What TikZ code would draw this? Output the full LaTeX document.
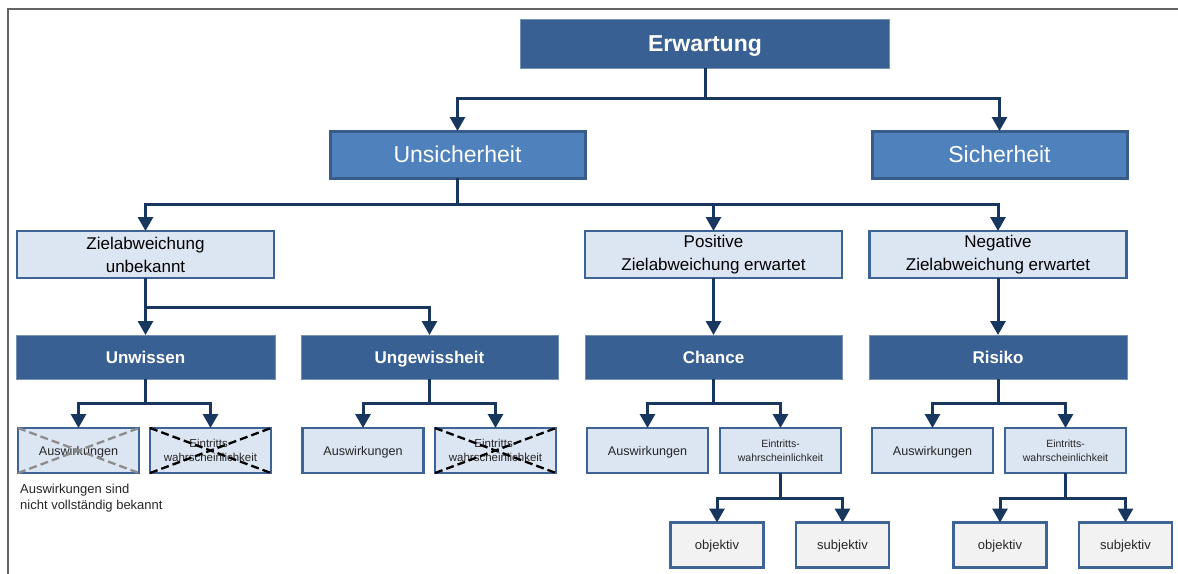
\documentclass[tikz,border=0pt]{standalone}
\usepackage{fontspec}
\setmainfont{Liberation Sans}
\usetikzlibrary{arrows.meta}
\definecolor{darkfill}{RGB}{56,96,146}
\definecolor{darkedge}{RGB}{120,145,178}
\definecolor{midfill}{RGB}{79,129,189}
\definecolor{midedge}{RGB}{56,93,138}
\definecolor{lightfill}{RGB}{220,230,242}
\definecolor{lightedge}{RGB}{62,100,150}
\definecolor{grayfill}{RGB}{242,242,242}
\definecolor{connc}{RGB}{23,55,94}
\definecolor{framec}{RGB}{100,100,100}
\definecolor{crossgray}{RGB}{140,140,140}
\tikzset{
  boxbase/.style={rectangle, inner sep=0pt, outer sep=0pt, align=center},
  darkbox/.style={boxbase, text height=12.2pt, text depth=0pt, fill=darkfill, draw=darkedge, line width=1pt, text=white,
    font=\bfseries\fontsize{17}{20}\selectfont, minimum height=44pt},
  topbox/.style={darkbox, text height=16.5pt, font=\bfseries\fontsize{23}{27}\selectfont, minimum height=49pt},
  midbox/.style={boxbase, text height=16.5pt, text depth=0pt, fill=midfill, draw=midedge, line width=3pt, text=white,
    font=\fontsize{23}{26}\selectfont, minimum height=47pt, minimum width=255pt},
  lightbox/.style={boxbase, fill=lightfill, draw=lightedge, line width=2.5pt, text=black,
    font=\fontsize{17}{23}\selectfont, minimum height=47pt, minimum width=257pt},
  smallbox/.style={boxbase, text height=9pt, text depth=0pt, fill=lightfill, draw=lightedge, line width=2.5pt, text=black!85,
    font=\fontsize{12.6}{16}\selectfont, minimum height=45pt, minimum width=121pt},
  probbox/.style={boxbase, fill=lightfill, draw=lightedge, line width=2.5pt, text=black!85,
    font=\fontsize{10.5}{14}\selectfont, minimum height=45pt, minimum width=121pt},
  graybox/.style={boxbase, text height=9.3pt, text depth=0pt, fill=grayfill, draw=lightedge, line width=2.5pt, text=black!85,
    font=\fontsize{13}{16}\selectfont, minimum height=45pt, minimum width=93pt},
  conn/.style={draw=connc, line width=3pt},
  arr/.style={conn, -{Triangle[width=15pt,length=14pt]}},
  crossk/.style={black, dashed, dash pattern=on 8pt off 4pt, line width=2.3pt},
  crossg/.style={crossgray, dashed, dash pattern=on 8pt off 4pt, line width=2.3pt},
}
\begin{document}
\begin{tikzpicture}[x=1pt,y=-1pt]
\useasboundingbox (0,0) rectangle (1178,573);
\draw[framec, line width=2pt] (8,580) -- (8,9) -- (1185,9);

% level 0
\node[topbox, minimum width=369pt] (erw) at (705,43.5) {Erwartung};
% level 1
\node[midbox] (uns) at (457.5,154.5) {Unsicherheit};
\node[midbox] (sich) at (999.5,154.5) {Sicherheit};
% level 2
\node[lightbox] (zu) at (145.5,254.5) {Zielabweichung\\unbekannt};
\node[lightbox] (pos) at (713.5,254.5) {Positive\\Zielabweichung erwartet};
\node[lightbox] (neg) at (998,254.5) {Negative\\Zielabweichung erwartet};
% level 3
\node[darkbox, minimum width=259pt] (unw) at (145.5,357) {Unwissen};
\node[darkbox, minimum width=257pt] (ung) at (429.5,357) {Ungewissheit};
\node[darkbox, minimum width=257pt] (cha) at (713.5,357) {Chance};
\node[darkbox, minimum width=258pt] (ris) at (998,357) {Risiko};
% level 4
\node[smallbox] (unwA) at (78.5,450.5) {Auswirkungen};
\node[probbox, font=\fontsize{11.5}{14}\selectfont] (unwE) at (210.5,450.5) {Eintritts-\\wahrscheinlichkeit};
\node[smallbox] (ungA) at (363,450.5) {Auswirkungen};
\node[probbox, font=\fontsize{11.5}{14}\selectfont] (ungE) at (495.5,450.5) {Eintritts-\\wahrscheinlichkeit};
\node[smallbox] (chaA) at (647.5,450.5) {Auswirkungen};
\node[probbox] (chaE) at (780.5,450.5) {Eintritts-\\wahrscheinlichkeit};
\node[smallbox] (risA) at (932.5,450.5) {Auswirkungen};
\node[probbox] (risE) at (1065.5,450.5) {Eintritts-\\wahrscheinlichkeit};
% level 5
\node[graybox] (chaO) at (717,545) {objektiv};
\node[graybox] (chaS) at (842.5,545) {subjektiv};
\node[graybox] (risO) at (1000,545) {objektiv};
\node[graybox] (risS) at (1125.5,545) {subjektiv};

% note
\node[anchor=north west, align=left, inner sep=0pt, font=\fontsize{13}{16}\selectfont, text=black!85] (note) at (20,484) {Auswirkungen sind\\nicht vollständig bekannt};

% crosses
\draw[crossg] (unwA.north west) -- (unwA.south east);
\draw[crossg] (unwA.south west) -- (unwA.north east);
\draw[crossk] (unwE.north west) -- (unwE.south east);
\draw[crossk] (unwE.south west) -- (unwE.north east);
\draw[crossk] (ungE.north west) -- (ungE.south east);
\draw[crossk] (ungE.south west) -- (ungE.north east);

% connectors
\coordinate (j0) at (705,98);
\draw[conn] (erw.south) -- (j0);
\draw[arr] (j0) -| (uns.north);
\draw[arr] (j0) -| (sich.north);

\coordinate (j1) at (457.5,204);
\draw[conn] (uns.south) -- (j1);
\draw[arr] (j1) -| (zu.north);
\draw[arr] (j1) -| (pos.north);
\draw[arr] (j1) -| (neg.north);

\coordinate (j2) at (145.5,307);
\draw[conn] (zu.south) -- (j2);
\draw[arr] (j2) -- (unw.north);
\draw[arr] (j2) -| (ung.north);
\draw[arr] (pos.south) -- (cha.north);
\draw[arr] (neg.south) -- (ris.north);

\coordinate (j3) at (145.5,403);
\draw[conn] (unw.south) -- (j3);
\draw[arr] (j3) -| (unwA.north);
\draw[arr] (j3) -| (unwE.north);

\coordinate (j4) at (429.5,403);
\draw[conn] (ung.south) -- (j4);
\draw[arr] (j4) -| (ungA.north);
\draw[arr] (j4) -| (ungE.north);

\coordinate (j5) at (713.5,403);
\draw[conn] (cha.south) -- (j5);
\draw[arr] (j5) -| (chaA.north);
\draw[arr] (j5) -| (chaE.north);

\coordinate (j6) at (998,403);
\draw[conn] (ris.south) -- (j6);
\draw[arr] (j6) -| (risA.north);
\draw[arr] (j6) -| (risE.north);

\coordinate (j7) at (780.5,498);
\draw[conn] (chaE.south) -- (j7);
\draw[arr] (j7) -| (chaO.north);
\draw[arr] (j7) -| (chaS.north);

\coordinate (j8) at (1065.5,498);
\draw[conn] (risE.south) -- (j8);
\draw[arr] (j8) -| (risO.north);
\draw[arr] (j8) -| (risS.north);
\end{tikzpicture}
\end{document}
